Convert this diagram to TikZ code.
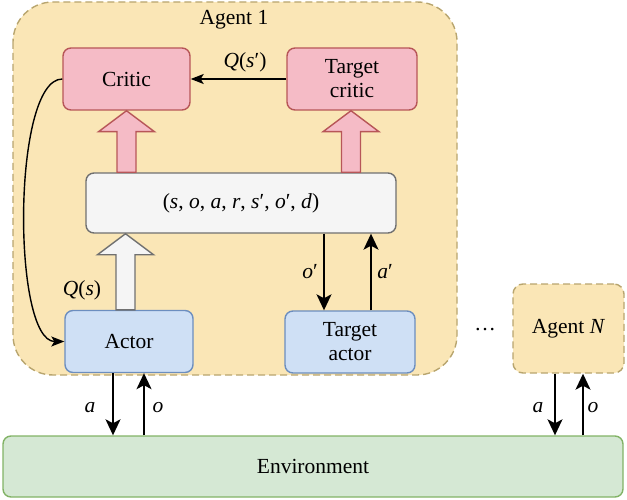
\documentclass[tikz,border=0pt]{standalone}
\usepackage{fontspec}
\setmainfont{Liberation Serif}
\usetikzlibrary{arrows.meta,calc}
\definecolor{agentfill}{RGB}{250,230,182}
\definecolor{agentdraw}{RGB}{184,165,110}
\definecolor{critfill}{RGB}{245,187,198}
\definecolor{critdraw}{RGB}{183,86,88}
\definecolor{buffill}{RGB}{245,245,245}
\definecolor{bufdraw}{RGB}{112,112,112}
\definecolor{actfill}{RGB}{207,224,245}
\definecolor{actdraw}{RGB}{108,142,191}
\definecolor{envfill}{RGB}{213,232,212}
\definecolor{envdraw}{RGB}{130,179,102}
\tikzset{
  box/.style={rectangle,rounded corners=8pt,line width=1.4pt,inner sep=0pt,align=center,font=\fontsize{21.5}{24}\selectfont},
  critbox/.style={box,fill=critfill,draw=critdraw},
  bufbox/.style={box,fill=buffill,draw=bufdraw},
  actbox/.style={box,fill=actfill,draw=actdraw},
  envbox/.style={box,fill=envfill,draw=envdraw},
  agentbox/.style={fill=agentfill,draw=agentdraw,line width=1.4pt,dash pattern=on 7pt off 4pt},
  lbl/.style={inner sep=0pt,font=\fontsize{21.5}{24}\selectfont},
  arr/.style={line width=1.6pt,-{Stealth[length=16pt,width=15pt,inset=4pt]}},
  thinarr/.style={line width=1.4pt,-{Stealth[length=13pt,width=10pt,inset=3pt]}},
  pinkblk/.style={fill=critfill,draw=critdraw,line width=1.4pt,line join=miter},
  whiteblk/.style={fill=buffill,draw=bufdraw,line width=1.4pt,line join=miter},
}
\newcommand\blockarr[3]{%
  \draw[#1] let \p1=(#2), \p2=(#3) in
    (\x1-9.5pt,\y1) -- (\x1-9.5pt,\y2-21pt) -- (\x1-28pt,\y2-21pt) -- (\x1,\y2)
    -- (\x1+28pt,\y2-21pt) -- (\x1+9.5pt,\y2-21pt) -- (\x1+9.5pt,\y1) -- cycle;}
\begin{document}
\begin{tikzpicture}[x=1pt,y=-1pt]
\useasboundingbox (0,0) rectangle (627,500);
% Agent 1 container
\draw[agentbox,rounded corners=40pt] (13,2) rectangle (457,375);
\node[lbl] (ag1) at (234,20) {Agent 1};
% nodes
\node[critbox,minimum width=127pt,minimum height=62pt] (critic) at (126.5,79) {Critic};
\node[critbox,minimum width=130pt,minimum height=62pt] (tcritic) at (352,79) {Target\\critic};
\node[bufbox,minimum width=310pt,minimum height=60pt] (buf) at (241,203)
  {(\textit{s}, \textit{o}, \textit{a}, \textit{r}, \textit{s}′, \textit{o}′, \textit{d})};
\node[actbox,minimum width=128pt,minimum height=62pt] (actor) at (129,341.5) {Actor};
\node[actbox,minimum width=130pt,minimum height=62pt] (tactor) at (350,342) {Target\\actor};
\node[envbox,minimum width=620pt,minimum height=61pt] (env) at (313,466.5) {Environment};
\node[box,agentbox,rounded corners=10pt,minimum width=111pt,minimum height=89pt] (agN) at (568.5,328.5) {Agent \textit{N}};
\node[lbl] (dots) at (485,330) {…};
% block arrows
\coordinate (pb1) at (buf.north -| critic.south);
\coordinate (pt1) at (critic.south);
\blockarr{pinkblk}{pb1}{pt1}
\coordinate (pb2) at ([xshift=-1pt]buf.north -| tcritic.south);
\coordinate (pt2) at ([xshift=-1pt]tcritic.south);
\blockarr{pinkblk}{pb2}{pt2}
\coordinate (wb) at ([xshift=-3.5pt]actor.north);
\coordinate (wt) at ([xshift=-3.5pt]actor.north |- buf.south);
\blockarr{whiteblk}{wb}{wt}
% arrows
\draw[thinarr] (tcritic.west) -- (critic.east);
\node[lbl] (qsp) at (245,62) {\textit{Q}(\textit{s}′)};
\draw[thinarr] (critic.west) .. controls (12,79) and (12,341.5) .. (actor.west);
\node[lbl] (qs) at (82,290) {\textit{Q}(\textit{s})};
\draw[arr] ([xshift=-26pt]tactor.north |- buf.south) -- ([xshift=-26pt]tactor.north);
\draw[arr] ([xshift=21pt]tactor.north) -- ([xshift=21pt]tactor.north |- buf.south);
\node[lbl] (op) at (310,272) {\textit{o}′};
\node[lbl] (ap) at (385,272) {\textit{a}′};
\draw[arr] ([xshift=-16pt]actor.south) -- ([xshift=-16pt]actor.south |- env.north);
\draw[arr] ([xshift=15pt]actor.south |- env.north) -- ([xshift=15pt]actor.south);
\node[lbl] (a1) at (90,408) {\textit{a}};
\node[lbl] (o1) at (158,408) {\textit{o}};
\draw[arr] ([xshift=-13.5pt]agN.south) -- ([xshift=-13.5pt]agN.south |- env.north);
\draw[arr] ([xshift=14.5pt]agN.south |- env.north) -- ([xshift=14.5pt]agN.south);
\node[lbl] (a2) at (538,408) {\textit{a}};
\node[lbl] (o2) at (593,408) {\textit{o}};
\end{tikzpicture}
\end{document}
